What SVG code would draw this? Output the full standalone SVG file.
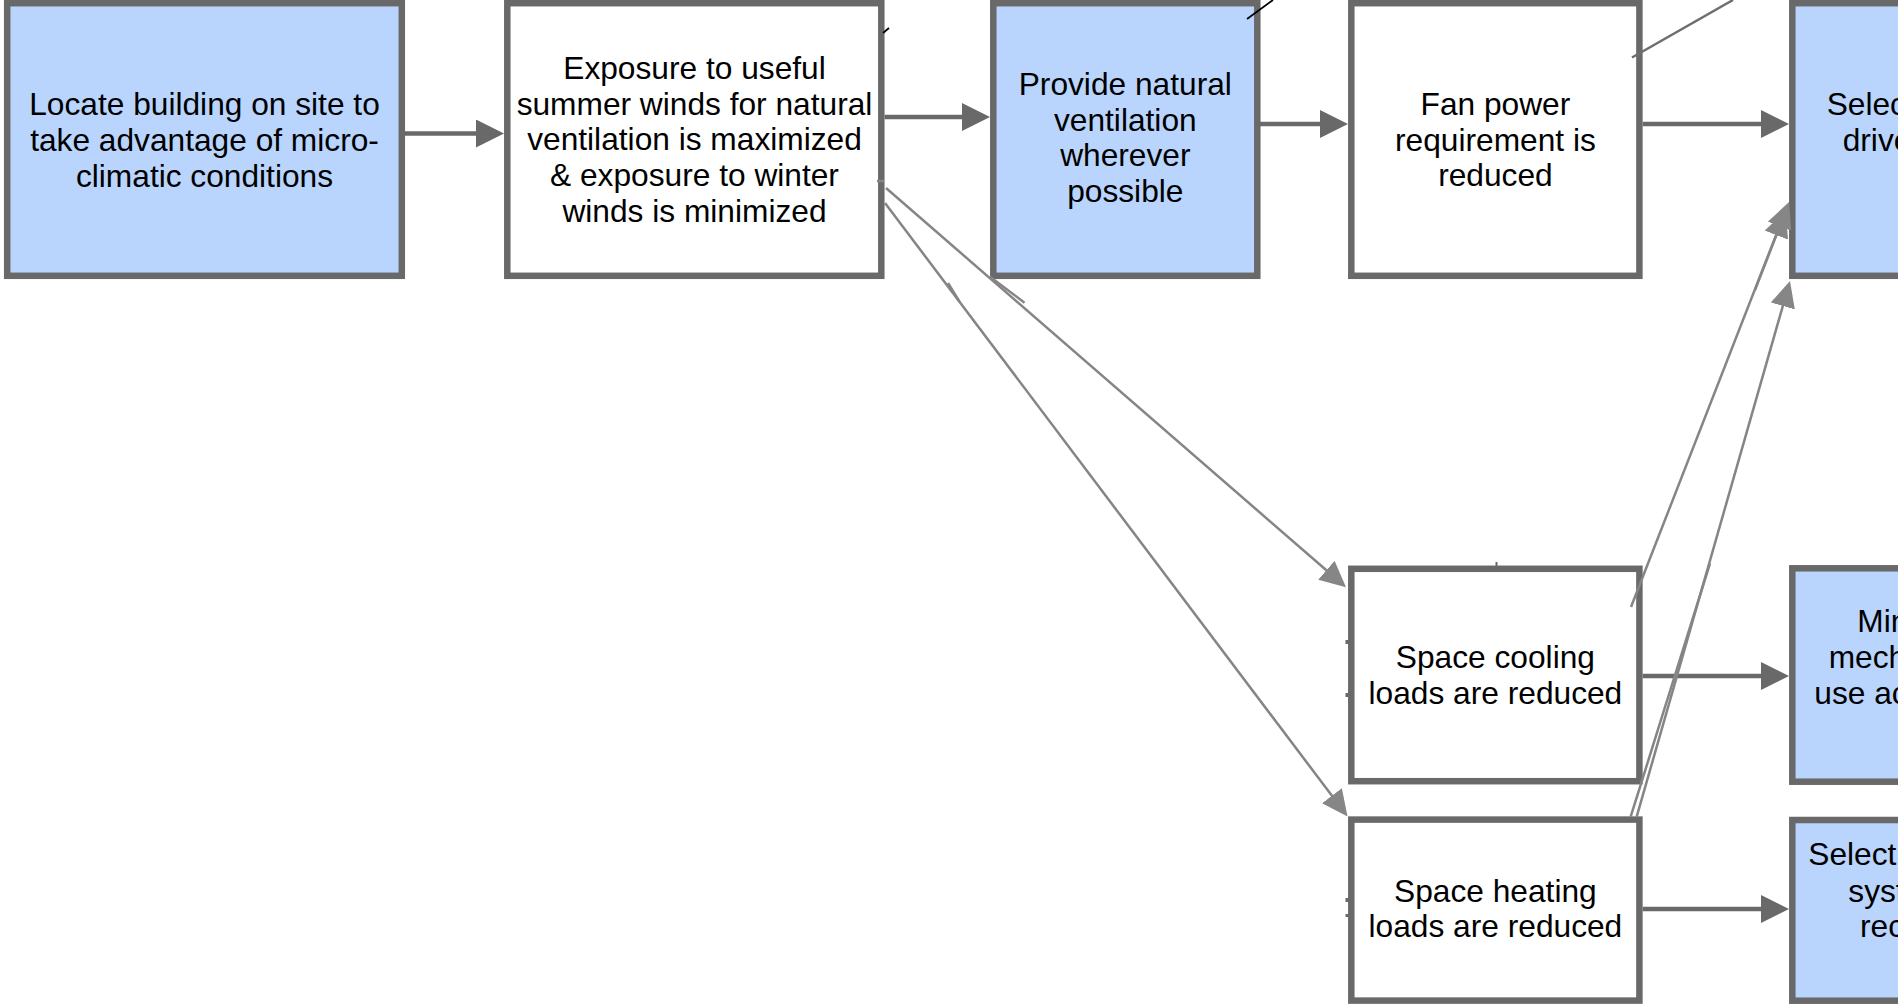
<svg xmlns="http://www.w3.org/2000/svg" width="1898" height="1004" viewBox="0 0 1898 1004">
<style>
.box{stroke:#696969;stroke-width:6.5}
.blue{fill:#b9d5fd}
.white{fill:#ffffff}
.t{font-family:"Liberation Sans",Arial,sans-serif;font-size:31.7px;fill:#000;text-anchor:middle}
.f{text-anchor:start}
.h{stroke:#696969;stroke-width:4.5;fill:none}
.d{stroke:#858585;stroke-width:2.5;fill:none}
.k{stroke:#000;stroke-width:1.8;fill:none}
.g{stroke:#6e6e6e;stroke-width:2.5;fill:none}
.tick{fill:#696969}
</style>
<defs>
<marker id="ah" markerUnits="userSpaceOnUse" markerWidth="28" markerHeight="28" refX="14" refY="14" orient="auto">
<path d="M0,0 L28,14 L0,28 Z" fill="#696969"/>
</marker>
<marker id="ad" markerUnits="userSpaceOnUse" markerWidth="26" markerHeight="25" refX="13" refY="12.5" orient="auto">
<path d="M0,0 L26,12.5 L0,25 Z" fill="#868686"/>
</marker>
</defs>
<rect x="0" y="0" width="1898" height="1004" fill="#ffffff"/>

<g id="node-locate">
<rect class="box blue" x="7.2" y="3.2" width="394.6" height="272.6"/>
<text class="t" x="204.5"><tspan x="204.5" y="115">Locate building on site to</tspan><tspan x="204.5" y="151">take advantage of micro-</tspan><tspan x="204.5" y="187">climatic conditions</tspan></text>
</g>

<g id="node-exposure">
<rect class="box white" x="507.3" y="3.2" width="374" height="272.6"/>
<text class="t" x="694.5"><tspan x="694.5" y="79">Exposure to useful</tspan><tspan x="694.5" y="114.7">summer winds for natural</tspan><tspan x="694.5" y="150.4">ventilation is maximized</tspan><tspan x="694.5" y="186">&amp; exposure to winter</tspan><tspan x="694.5" y="221.7">winds is minimized</tspan></text>
</g>

<g id="node-natural-ventilation">
<rect class="box blue" x="993.3" y="3.2" width="264" height="272.6"/>
<text class="t" x="1125.3"><tspan x="1125.3" y="95">Provide natural</tspan><tspan x="1125.3" y="130.6">ventilation</tspan><tspan x="1125.3" y="166.2">wherever</tspan><tspan x="1125.3" y="201.8">possible</tspan></text>
</g>

<g id="node-fan-power">
<rect class="box white" x="1351.3" y="3.2" width="288.1" height="272.6"/>
<text class="t" x="1495.4"><tspan x="1495.4" y="115">Fan power</tspan><tspan x="1495.4" y="150.7">requirement is</tspan><tspan x="1495.4" y="186.3">reduced</tspan></text>
</g>

<g id="node-select-drive">
<rect class="box blue" x="1792.3" y="3.2" width="288" height="272.6"/>
<text class="t f"><tspan x="1826.7" y="115">Selec</tspan><tspan x="1842.7" y="150.7">drive</tspan></text>
</g>

<g id="node-space-cooling">
<rect class="box white" x="1351.3" y="568.8" width="288.1" height="212.4"/>
<text class="t" x="1495.4"><tspan x="1495.4" y="668">Space cooling</tspan><tspan x="1495.4" y="704">loads are reduced</tspan></text>
</g>

<g id="node-space-heating">
<rect class="box white" x="1351.3" y="819.6" width="288.1" height="181"/>
<text class="t" x="1495.4"><tspan x="1495.4" y="901.7">Space heating</tspan><tspan x="1495.4" y="937.3">loads are reduced</tspan></text>
</g>

<g id="node-minimize">
<rect class="box blue" x="1792.3" y="568.3" width="288" height="213.4"/>
<text class="t f"><tspan x="1857.3" y="631.7">Min</tspan><tspan x="1828.7" y="668">mech</tspan><tspan x="1814.3" y="704">use ac</tspan></text>
</g>

<g id="node-select-system">
<rect class="box blue" x="1792.3" y="820" width="288" height="180.7"/>
<text class="t f"><tspan x="1808.3" y="865">Select</tspan><tspan x="1848.3" y="901.7">syst</tspan><tspan x="1860" y="937">rec</tspan></text>
</g>

<g id="connectors">
<path class="h" d="M405,133.5 H490" marker-end="url(#ah)"/>
<path class="h" d="M884.5,117 H976" marker-end="url(#ah)"/>
<path class="h" d="M1257,124 H1334" marker-end="url(#ah)"/>
<path class="h" d="M1642.7,124 H1775" marker-end="url(#ah)"/>
<path class="h" d="M1642.7,676 H1775" marker-end="url(#ah)"/>
<path class="h" d="M1642.7,909 H1775" marker-end="url(#ah)"/>

<path class="d" d="M886,188 L1336.2,578.8" marker-end="url(#ad)"/>
<path class="d" d="M885,203 L1339.7,806.1" marker-end="url(#ad)"/>
<path class="d" d="M1631,607 L1784.3,214.1" marker-end="url(#ad)"/>
<path class="d" d="M1755,290 L1781.1,223" marker-end="url(#ad)"/>
<path class="d" d="M1636.7,816.7 L1786.4,293.5" marker-end="url(#ad)"/>
<path class="d" d="M1630.7,816.7 L1710,563.3"/>
<path class="d" d="M990,276.7 L1024.5,302.7"/>
<path class="d" d="M948,283 L959.5,301.7"/>
<path class="d" d="M877,181 L884,181"/>

<path class="k" d="M883,33 L889,28"/>
<path class="k" d="M1247,19 L1273,0"/>
<path class="g" d="M1632,57.5 L1733,0"/>

<rect class="tick" x="1345.5" y="640" width="3" height="4"/>
<rect class="tick" x="1345.5" y="693" width="3" height="4"/>
<rect class="tick" x="1345.5" y="898" width="3" height="4"/>
<rect class="tick" x="1345.5" y="914" width="3" height="3"/>
<rect class="tick" x="1495.5" y="562" width="2" height="4"/>
</g>
</svg>
